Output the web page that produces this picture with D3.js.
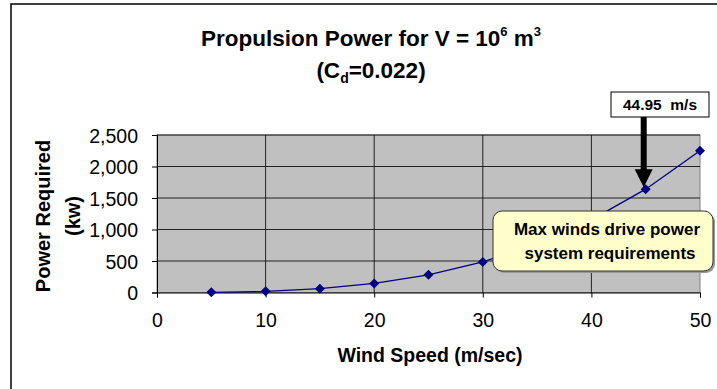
<!DOCTYPE html>
<html>
<head>
<meta charset="utf-8">
<script src="https://cdn.jsdelivr.net/npm/d3@7"></script>
<style>
  body { margin: 0; background: #fff; }
  svg { display: block; font-family: "Liberation Sans", Arial, sans-serif; }
</style>
</head>
<body>
<svg id="chart"></svg>
<script>
// wind speed (m/s) and power (kw)
const speeds = [5, 10, 15, 20, 25, 30, 35, 40, 45, 50];
const power = [2, 18, 61, 144, 281, 486, 772, 1152, 1640, 2250];
const xTicks = [0, 10, 20, 30, 40, 50];
const yTicks = [0, 500, 1000, 1500, 2000, 2500];

const width = 717, height = 389;
const margin = { top: 135, right: 17, bottom: 96.5, left: 157 };
const FONT = "Liberation Sans, Arial, sans-serif";

const svg = d3.select("#chart").attr("width", width).attr("height", height);

// outer frame (only top & left show)
svg.append("rect")
  .attr("x", 11).attr("y", 4)
  .attr("width", 720).attr("height", 400)
  .attr("fill", "none").attr("stroke", "#000").attr("stroke-width", 1.5);

const x = d3.scaleLinear().domain([0, 50]).range([margin.left, width - margin.right]);
const y = d3.scaleLinear().domain([0, 2500]).range([height - margin.bottom, margin.top]);

// plot background
svg.append("rect")
  .attr("x", x(0)).attr("y", y(2500))
  .attr("width", x(50) - x(0)).attr("height", y(0) - y(2500))
  .attr("fill", "#c0c0c0").attr("stroke", "#808080");

// grid
svg.append("g")
  .selectAll("line")
  .data(yTicks.slice(1))
  .join("line")
  .attr("x1", x(0)).attr("x2", x(50))
  .attr("y1", d => y(d)).attr("y2", d => y(d))
  .attr("stroke", "#111").attr("stroke-width", 0.9);
svg.append("g")
  .selectAll("line")
  .data(xTicks.slice(1, -1))
  .join("line")
  .attr("x1", d => x(d)).attr("x2", d => x(d))
  .attr("y1", y(0)).attr("y2", y(2500))
  .attr("stroke", "#111").attr("stroke-width", 0.9);

// axes
const xAxis = svg.append("g")
  .attr("transform", `translate(0,${y(0)})`)
  .call(d3.axisBottom(x).tickValues(xTicks).tickSize(5).tickPadding(16).tickFormat(d3.format("d")));
const yAxis = svg.append("g")
  .attr("transform", `translate(${x(0)},0)`)
  .call(d3.axisLeft(y).tickValues(yTicks).tickSize(5).tickPadding(14).tickFormat(d3.format(",")));
[xAxis, yAxis].forEach(g => {
  g.select(".domain").attr("stroke", "#000");
  g.selectAll(".tick line").attr("stroke", "#000");
  g.selectAll("text").attr("font-size", 19.5).attr("fill", "#000").attr("font-family", FONT);
});
yAxis.selectAll("text").attr("dy", "0.36em");

// line + markers
const pts = speeds.map((s, i) => [s, power[i]]);
svg.append("path")
  .datum(pts)
  .attr("fill", "none")
  .attr("stroke", "#000080")
  .attr("stroke-width", 1.3)
  .attr("d", d3.line().x(d => x(d[0])).y(d => y(d[1])));
svg.append("g")
  .selectAll("path")
  .data(pts)
  .join("path")
  .attr("transform", d => `translate(${x(d[0])},${y(d[1])})`)
  .attr("d", "M0,-5L5,0L0,5L-5,0Z")
  .attr("fill", "#000080");

// titles
const title = svg.append("text")
  .attr("x", 371).attr("y", 46)
  .attr("text-anchor", "middle")
  .attr("font-size", 22.5).attr("font-weight", "bold");
title.append("tspan").text("Propulsion Power for V = 10");
title.append("tspan").attr("font-size", 13).attr("dy", -10).text("6");
title.append("tspan").attr("dy", 10).text(" m");
title.append("tspan").attr("font-size", 13).attr("dy", -10).text("3");

const sub = svg.append("text")
  .attr("x", 371).attr("y", 78)
  .attr("text-anchor", "middle")
  .attr("font-size", 22.5).attr("font-weight", "bold");
sub.append("tspan").text("(C");
sub.append("tspan").attr("font-size", 14).attr("dy", 5).text("d");
sub.append("tspan").attr("dy", -5).text("=0.022)");

svg.append("text")
  .attr("x", 430).attr("y", 362)
  .attr("text-anchor", "middle")
  .attr("font-size", 19.5).attr("font-weight", "bold")
  .text("Wind Speed (m/sec)");

const yt = svg.append("text")
  .attr("transform", "translate(50,216) rotate(-90)")
  .attr("text-anchor", "middle")
  .attr("font-size", 20).attr("font-weight", "bold");
yt.append("tspan").attr("x", 0).attr("y", 0).text("Power Required");
yt.append("tspan").attr("x", 0).attr("y", 30).text("(kw)");

// 44.95 m/s label and arrow
const px = x(speeds[8]), py = y(power[8]);
svg.append("rect")
  .attr("x", 611).attr("y", 92).attr("width", 98).attr("height", 25)
  .attr("fill", "#fff").attr("stroke", "#000").attr("stroke-width", 1);
svg.append("text")
  .attr("x", 660).attr("y", 110)
  .attr("text-anchor", "middle")
  .attr("font-size", 15.5).attr("font-weight", "bold")
  .attr("xml:space", "preserve")
  .text("44.95  m/s");
svg.append("line")
  .attr("x1", px - 2).attr("x2", px - 2)
  .attr("y1", 117).attr("y2", py - 18)
  .attr("stroke", "#000").attr("stroke-width", 6);
svg.append("path")
  .attr("d", `M${px - 11},${py - 20}L${px + 7},${py - 20}L${px - 2},${py - 2}Z`)
  .attr("fill", "#000");

// callout
svg.append("rect")
  .attr("x", 495).attr("y", 213).attr("width", 220).attr("height", 60)
  .attr("rx", 9).attr("fill", "#999");
svg.append("rect")
  .attr("x", 493).attr("y", 211).attr("width", 220).attr("height", 60)
  .attr("rx", 9)
  .attr("fill", "#ffffcc").attr("stroke", "#333").attr("stroke-width", 1);
const co = svg.append("text")
  .attr("text-anchor", "middle")
  .attr("font-size", 17).attr("font-weight", "bold")
  .attr("xml:space", "preserve");
co.append("tspan").attr("x", 607).attr("y", 235).text("Max winds drive power");
co.append("tspan").attr("x", 610).attr("y", 259).text("system requirements");
</script>
</body>
</html>
